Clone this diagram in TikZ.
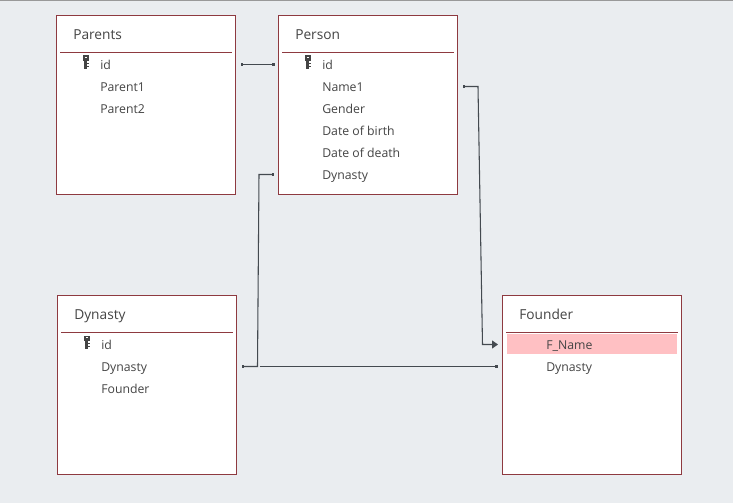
\documentclass[tikz,border=0pt]{standalone}
\usepackage{fontspec}
\setmainfont{Open Sans}
\usetikzlibrary{arrows.meta}
\definecolor{bgc}{HTML}{EAEDF0}
\definecolor{frame}{HTML}{8E3A40}
\definecolor{txt}{HTML}{444444}
\definecolor{link}{HTML}{444A50}
\definecolor{hl}{HTML}{FFC0C3}
\tikzset{
  tablebox/.style={draw=frame,fill=white,line width=0.75pt,minimum width=134.25pt,minimum height=134.25pt,inner sep=0pt,anchor=north west},
  titletext/.style={text=txt,font=\fontsize{10.3}{12}\selectfont,anchor=base west,inner sep=0pt},
  fieldtext/.style={text=txt,font=\fontsize{9.2}{11}\selectfont,anchor=base west,inner sep=0pt},
  rel/.style={draw=link,line width=0.8pt,{Square[length=1.6pt,width=2pt]}-{Square[length=1.6pt,width=2pt]}},
  relfree/.style={draw=link,line width=0.8pt,-{Square[length=1.6pt,width=2pt]}},
  relarrow/.style={draw=link,line width=0.8pt,{Square[length=1.6pt,width=2pt]}-{Triangle[length=4.5pt,width=6pt]}},
  sepline/.style={draw=frame,line width=0.75pt}
}
\newcommand{\keyglyph}[2]{%
  \fill[txt] (#1-3,#2-6.5) rectangle (#1+3,#2-1);
  \fill[txt] (#1-2,#2-1) rectangle (#1+1,#2+7);
  \fill[txt] (#1+1,#2+1) rectangle (#1+3,#2+2.2);
  \fill[txt] (#1+1,#2+4) rectangle (#1+3,#2+5.2);
  \fill[white] (#1-1,#2-5.2) rectangle (#1+1,#2-3.8);
}
\begin{document}
\begin{tikzpicture}[x=0.75pt,y=-0.75pt]
\useasboundingbox (0,0) rectangle (733,503);
\fill[bgc] (0,0) rectangle (733,503);
\fill[gray!80] (0,0) rectangle (733,1);

% Parents
\node[tablebox] (parents) at (56,15) {};
\node[titletext] (parentsT) at (73,39.7) {Parents};
\draw[sepline] (60,52.5) -- (232,52.5);
\keyglyph{86}{62}
\node[fieldtext] (pa1) at (100,69.6) {id};
\node[fieldtext] (pa2) at (100,91.6) {Parent1};
\node[fieldtext] (pa3) at (100,113.6) {Parent2};

% Person
\node[tablebox] (person) at (278,15) {};
\node[titletext] (personT) at (295,39.7) {Person};
\draw[sepline] (282,52.5) -- (454,52.5);
\keyglyph{308}{62}
\node[fieldtext] (pe1) at (322,69.6) {id};
\node[fieldtext] (pe2) at (322,91.6) {Name1};
\node[fieldtext] (pe3) at (322,113.6) {Gender};
\node[fieldtext] (pe4) at (322,135.6) {Date of birth};
\node[fieldtext] (pe5) at (322,157.3) {Date of death};
\node[fieldtext] (pe6) at (322,179.3) {Dynasty};

% Dynasty
\node[tablebox] (dynasty) at (57,295) {};
\node[titletext] (dynastyT) at (74,319.5) {Dynasty};
\draw[sepline] (61,332) -- (233,332);
\keyglyph{87}{342}
\node[fieldtext] (dy1) at (101,349) {id};
\node[fieldtext] (dy2) at (101,371) {Dynasty};
\node[fieldtext] (dy3) at (101,393) {Founder};

% Founder
\node[tablebox] (founder) at (502,295) {};
\node[titletext] (founderT) at (519,319.5) {Founder};
\draw[sepline] (506,332) -- (678,332);
\fill[hl] (507,334) rectangle (677,354);
\node[fieldtext] (fo1) at (546,349) {F\_Name};
\node[fieldtext] (fo2) at (546,371) {Dynasty};

% Connector ends
\coordinate (parentsR) at (241,64.5);
\coordinate (personIdL) at (274.5,64.5);
\coordinate (personNameR) at (463,86.5);
\coordinate (founderNameL) at (498,344.5);
\coordinate (dynastyR) at (242,366.5);
\coordinate (personDynL) at (274,174.5);
\coordinate (dynastyJoin) at (259.5,366.5);
\coordinate (founderDynL) at (497.5,366.5);

\draw[rel] (parentsR) -- (personIdL);
\draw[relarrow] (personNameR) -- (478,86.5) -- (482.5,344.5) -- (founderNameL);
\draw[rel] (dynastyR) -- (257.5,366.5) -- (259,174.5) -- (personDynL);
\draw[relfree] (dynastyJoin) -- (founderDynL);
\end{tikzpicture}
\end{document}
